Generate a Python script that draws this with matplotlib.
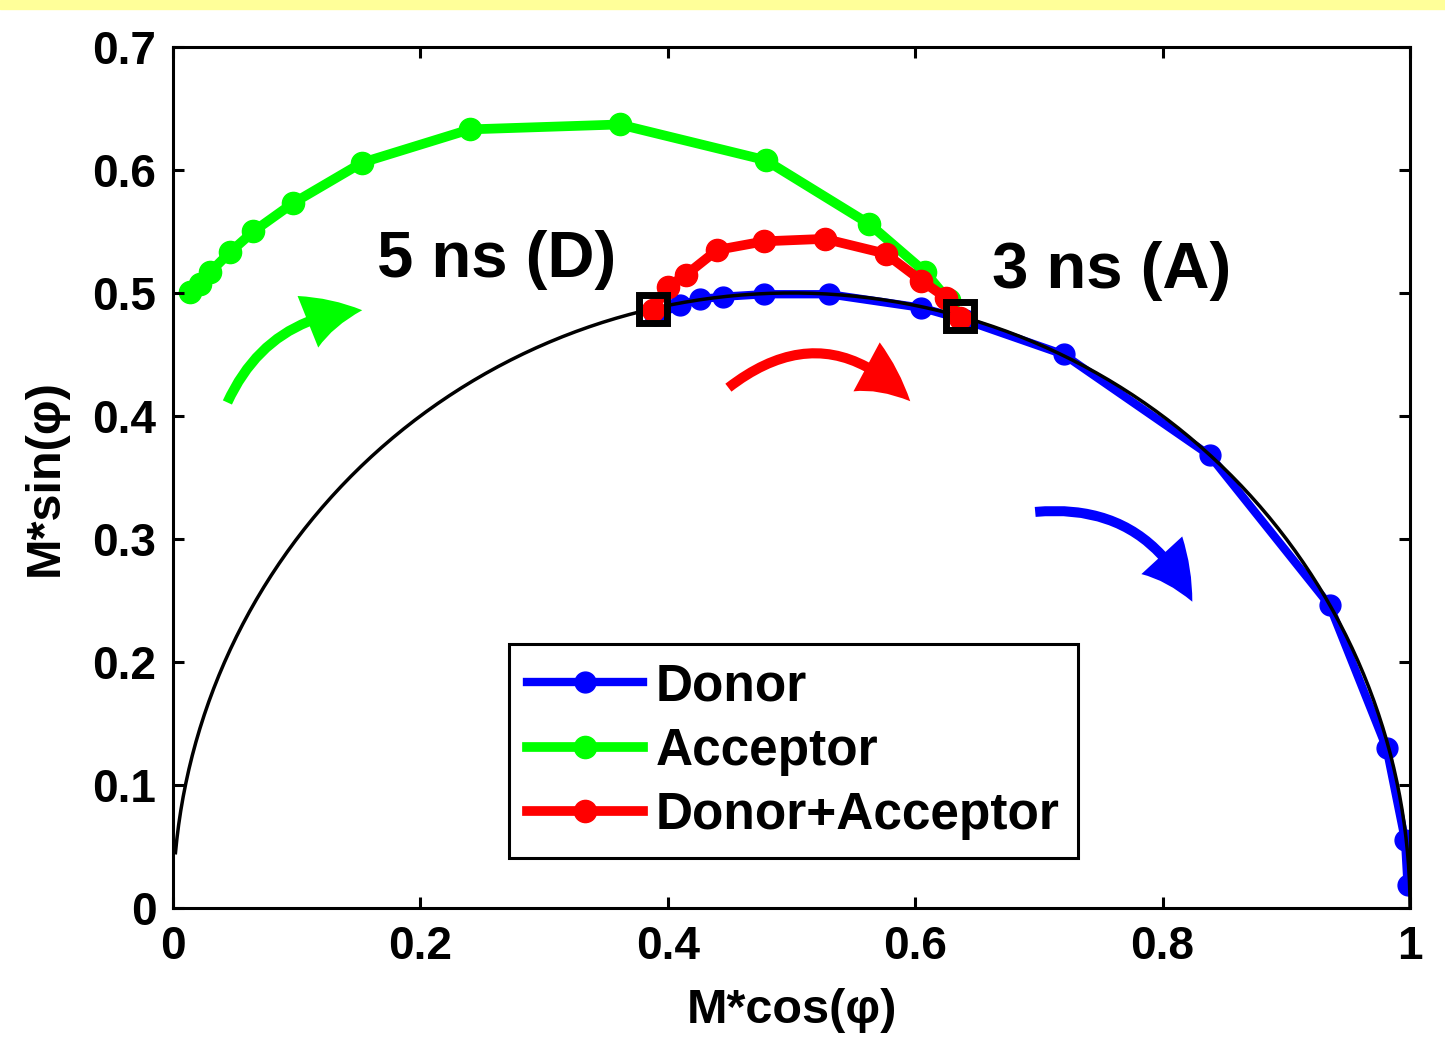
import matplotlib.pyplot as plt
import numpy as np
from matplotlib.patches import Rectangle

plt.rcParams['font.family'] = ['Liberation Sans', 'DejaVu Sans']
plt.rcParams['font.weight'] = 'bold'

# phasor data
donor_g = [0.390, 0.410, 0.426, 0.445, 0.478, 0.530, 0.605, 0.640, 0.720, 0.838, 0.935, 0.981, 0.996, 0.998]
donor_s = [0.482, 0.490, 0.495, 0.497, 0.499, 0.499, 0.488, 0.478, 0.450, 0.368, 0.246, 0.130, 0.055, 0.019]

acc_g = [0.014, 0.022, 0.030, 0.046, 0.065, 0.097, 0.153, 0.240, 0.361, 0.479, 0.563, 0.608, 0.627]
acc_s = [0.501, 0.507, 0.517, 0.533, 0.550, 0.573, 0.606, 0.633, 0.637, 0.608, 0.556, 0.517, 0.494]

da_g = [0.388, 0.400, 0.415, 0.440, 0.478, 0.527, 0.576, 0.605, 0.625, 0.636]
da_s = [0.486, 0.505, 0.515, 0.535, 0.542, 0.544, 0.532, 0.510, 0.496, 0.480]

ref_g = [0.388, 0.636]
ref_s = [0.487, 0.481]

# universal semicircle
theta = np.linspace(0.09, np.pi, 400)
circ_g = 0.5 - 0.5 * np.cos(theta)
circ_s = 0.5 * np.sin(theta)

fig = plt.figure(figsize=(14.45, 10.37), dpi=100)
fig.patches.append(Rectangle((0, 1 - 9 / 1037), 1, 9 / 1037, transform=fig.transFigure,
                             color='#FFFF99', zorder=0))
ax = fig.add_axes([0.1197, 0.1244, 0.8561, 0.8303])

ax.plot(circ_g, circ_s, color='black', lw=2.5, zorder=2)
ax.plot(donor_g, donor_s, '-o', color='#0000FF', lw=6, ms=15, label='Donor', zorder=1)
ax.plot(acc_g, acc_s, '-o', color='#00FF00', lw=7, ms=16, label='Acceptor', zorder=1)
ax.plot(da_g, da_s, '-o', color='#FF0000', lw=7, ms=16, label='Donor+Acceptor', zorder=3)
ax.plot(ref_g, ref_s, 's', ms=20, mfc='none', mec='black', mew=5, zorder=4)

ax.text(0.165, 0.527, '5 ns (D)', fontsize=47, fontweight='bold', va='center', ha='left')
ax.text(0.662, 0.518, '3 ns (A)', fontsize=47, fontweight='bold', va='center', ha='left')

arrows = [((0.044, 0.411), (0.153, 0.486), '#00FF00', -0.3),
          ((0.449, 0.423), (0.596, 0.412), '#FF0000', -0.45),
          ((0.697, 0.322), (0.824, 0.249), '#0000FF', -0.35)]
for start, end, col, rad in arrows:
    ax.annotate('', xy=end, xytext=start,
                arrowprops=dict(arrowstyle='simple,head_length=1.0,head_width=1.0,tail_width=0.18',
                                connectionstyle='arc3,rad=%s' % rad,
                                color=col, lw=0, mutation_scale=40, shrinkA=0, shrinkB=0))

ax.set_xlim(0, 1)
ax.set_ylim(0, 0.7)
ax.set_xticks([0, 0.2, 0.4, 0.6, 0.8, 1])
ax.set_xticklabels(['0', '0.2', '0.4', '0.6', '0.8', '1'])
ax.set_yticks([0, 0.1, 0.2, 0.3, 0.4, 0.5, 0.6, 0.7])
ax.set_yticklabels(['0', '0.1', '0.2', '0.3', '0.4', '0.5', '0.6', '0.7'])
ax.tick_params(direction='in', length=8, width=2.2, labelsize=33, top=True, right=True, pad=12)
for lab in ax.get_xticklabels() + ax.get_yticklabels():
    lab.set_fontweight('bold')
for sp in ax.spines.values():
    sp.set_linewidth(2.2)

ax.set_xlabel('M*cos(φ)', fontsize=35, fontweight='bold', labelpad=14)
ax.set_ylabel('M*sin(φ)', fontsize=35, fontweight='bold', labelpad=18)

leg = ax.legend(loc='lower left', bbox_to_anchor=(0.272, 0.058), borderaxespad=0,
                fontsize=37, fancybox=False, edgecolor='black', framealpha=1,
                handlelength=2.25, labelspacing=0.3, handletextpad=0.25, borderpad=0.35)
leg.get_frame().set_linewidth(2.2)
for t in leg.get_texts():
    t.set_fontweight('bold')

fig.savefig('out.png', dpi=100)
